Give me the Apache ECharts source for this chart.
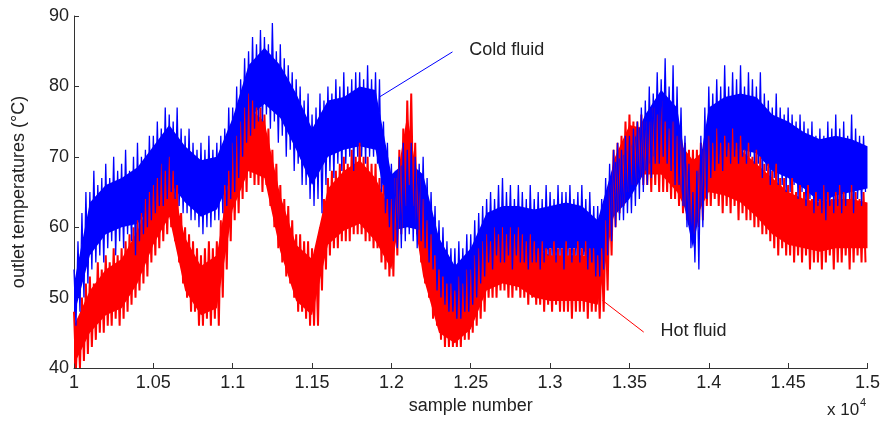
<!DOCTYPE html>
<html>
<head>
<meta charset="utf-8">
<script src="https://cdn.jsdelivr.net/npm/echarts@6/dist/echarts.min.js"></script>
<style>
  html, body { margin: 0; padding: 0; background: #fff; }
  #chart { width: 883px; height: 426px; }
</style>
</head>
<body>
<div id="chart"></div>
<script>
// spike readings: bins of 25 samples starting at 10000 (hi / lo per bin)
const sampleStart = 10000
const binSize = 25
// dense core of each trace: one reading every 100 samples
const coreStep = 100

const coldHi = [
  54, 58, 62, 65, 65, 68, 66, 67, 69, 67, 70, 68, 69, 71, 68, 70, 72, 70, 71, 73,
  73, 75, 74, 77, 76, 75, 77, 74, 73, 74, 72, 71, 72, 71, 73, 71, 72, 73, 74, 77,
  77, 80, 81, 84, 85, 87, 86, 88, 87, 86, 89, 85, 86, 84, 83, 82, 81, 80, 78, 79,
  76, 77, 79, 78, 80, 79, 81, 80, 82, 80, 81, 82, 82, 81, 83, 81, 82, 81, 75, 72,
  69, 68, 70, 72, 71, 72, 70, 69, 70, 67, 65, 63, 61, 60, 58, 57, 57, 58, 57, 59,
  59, 61, 62, 63, 64, 65, 64, 66, 67, 65, 66, 64, 66, 65, 64, 66, 64, 65, 64, 66,
  65, 64, 66, 65, 65, 66, 64, 65, 66, 64, 65, 63, 63, 64, 67, 69, 71, 72, 71, 73,
  73, 74, 75, 77, 78, 80, 79, 82, 81, 84, 80, 83, 80, 77, 73, 69, 65, 68, 73, 77,
  80, 79, 81, 80, 83, 80, 82, 81, 83, 80, 82, 81, 80, 82, 79, 78, 77, 79, 77, 76,
  77, 76, 75, 76, 75, 74, 75, 73, 74, 73, 75, 74, 76, 74, 75, 73, 76, 74, 73, 73,
]
const coldLo = [
  46, 48, 50, 52, 54, 55, 56, 55, 57, 58, 56, 58, 57, 59, 58, 56, 58, 59, 60, 61,
  62, 63, 63, 64, 65, 64, 63, 62, 62, 61, 61, 60, 59, 60, 60, 61, 61, 62, 63, 64,
  65, 67, 70, 72, 73, 74, 75, 75, 76, 74, 75, 72, 73, 70, 71, 68, 69, 66, 66, 64,
  63, 64, 62, 66, 68, 67, 69, 68, 69, 70, 68, 70, 70, 69, 70, 70, 69, 65, 62, 60,
  58, 57, 57, 58, 59, 58, 57, 58, 57, 55, 54, 51, 50, 49, 48, 48, 47, 47, 48, 48,
  49, 50, 52, 53, 55, 54, 56, 55, 55, 56, 54, 56, 55, 55, 54, 55, 55, 54, 55, 56,
  56, 55, 56, 54, 56, 55, 56, 55, 56, 54, 55, 53, 53, 54, 56, 58, 60, 61, 61, 62,
  62, 63, 64, 65, 66, 67, 69, 69, 70, 69, 68, 66, 66, 63, 60, 57, 55, 54, 60, 64,
  67, 68, 69, 68, 70, 69, 70, 69, 70, 69, 70, 69, 69, 67, 68, 66, 67, 66, 66, 65,
  65, 66, 64, 65, 63, 64, 62, 63, 62, 61, 63, 62, 63, 62, 63, 64, 62, 64, 63, 65,
]
const hotHi = [
  48, 47, 50, 52, 53, 52, 55, 54, 56, 55, 57, 56, 57, 58, 59, 60, 61, 62, 64, 65,
  66, 67, 69, 68, 70, 68, 66, 62, 60, 59, 58, 57, 56, 57, 58, 57, 58, 61, 66, 68,
  72, 73, 75, 77, 79, 78, 77, 77, 76, 74, 71, 69, 66, 64, 63, 61, 59, 59, 58, 58,
  57, 56, 60, 64, 67, 68, 68, 69, 70, 69, 71, 70, 72, 70, 70, 69, 69, 67, 66, 64,
  64, 67, 71, 74, 78, 79, 72, 67, 64, 61, 59, 56, 54, 53, 52, 52, 51, 53, 52, 54,
  54, 56, 57, 58, 59, 58, 60, 59, 60, 59, 60, 59, 60, 59, 58, 59, 58, 57, 58, 57,
  57, 58, 57, 57, 58, 57, 57, 58, 57, 58, 57, 57, 56, 57, 61, 66, 71, 72, 73, 75,
  76, 75, 75, 76, 75, 75, 77, 76, 78, 75, 74, 75, 73, 73, 72, 71, 71, 71, 72, 72,
  73, 72, 74, 72, 73, 72, 74, 72, 73, 71, 72, 70, 71, 70, 69, 69, 68, 69, 67, 67,
  66, 67, 65, 66, 65, 66, 64, 65, 64, 66, 65, 64, 65, 66, 65, 64, 66, 65, 64, 65,
]
const hotLo = [
  40, 40, 41, 42, 43, 44, 45, 45, 46, 46, 47, 46, 47, 48, 49, 50, 51, 52, 53, 55,
  56, 57, 58, 59, 60, 58, 55, 52, 50, 48, 48, 46, 46, 47, 46, 47, 46, 50, 54, 58,
  61, 62, 64, 65, 67, 66, 66, 65, 66, 63, 60, 57, 55, 53, 52, 50, 48, 48, 47, 46,
  46, 46, 51, 54, 56, 57, 57, 58, 58, 58, 59, 59, 59, 58, 58, 57, 57, 55, 54, 53,
  53, 56, 59, 63, 66, 63, 59, 55, 52, 50, 47, 46, 44, 43, 43, 43, 43, 43, 44, 44,
  45, 46, 47, 48, 50, 50, 50, 51, 51, 50, 50, 51, 50, 50, 49, 50, 49, 49, 48, 49,
  48, 49, 48, 48, 48, 47, 48, 48, 48, 47, 48, 48, 47, 48, 51, 56, 60, 62, 63, 65,
  66, 66, 67, 66, 66, 65, 66, 65, 65, 65, 64, 64, 63, 62, 61, 60, 59, 60, 61, 63,
  63, 64, 63, 62, 63, 62, 63, 61, 62, 61, 61, 60, 60, 59, 59, 58, 57, 56, 57, 56,
  56, 55, 56, 55, 56, 54, 55, 55, 54, 55, 56, 54, 55, 55, 56, 54, 55, 56, 55, 55,
]

const coldCoreHi = [
  52, 63.5, 66, 67, 68.5, 71.5, 74.5, 71.5, 69.5, 70,
  75.5, 83, 85.5, 83, 79, 74, 78, 78.5, 80, 79.5,
  67.5, 69.5, 67.5, 58.5, 54.5, 57, 62, 63, 63, 62.5,
  63, 63.5, 63, 61, 69, 71, 76, 79.5, 77, 63,
  77, 78.5, 79, 78.5, 76, 75, 73.5, 72.5, 73, 72.5, 71.5,
]
const coldCoreLo = [
  47.5, 56, 59, 60, 60.5, 63.5, 66.5, 63.5, 61.5, 62.5,
  67.5, 75.5, 77.5, 75.5, 71, 66, 70, 71, 71.5, 71,
  59.5, 60, 59.5, 51.5, 48.5, 50.5, 56, 57, 57, 56,
  57, 57, 57, 54, 61.5, 64, 68, 72, 68, 57,
  69, 71, 71, 70.5, 68, 67, 65.5, 63.5, 64.5, 65, 65.5,
]
const hotCoreHi = [
  46, 51, 54, 55.5, 59.5, 64.5, 68, 58.5, 54.5, 56,
  70, 77, 75, 64.5, 57.5, 55.5, 65.5, 68, 69.5, 67,
  62, 76, 62, 52, 50, 53, 57.5, 58.5, 58.5, 57,
  56, 56, 56, 55.5, 69.5, 74.5, 74, 74, 72.5, 69.5,
  71.5, 71.5, 71, 69, 67, 65, 64, 63.5, 64, 64, 63.5,
]
const hotCoreLo = [
  40.5, 45, 47.5, 48.5, 52, 57.5, 61.5, 51, 47.5, 48.5,
  62.5, 68, 67, 56.5, 49.5, 47.5, 57.5, 59.5, 60.5, 58,
  54, 67.5, 53, 45, 43.5, 45.5, 51, 52, 51.5, 50,
  49.5, 49.5, 49.5, 49, 61.5, 67.5, 67.5, 67.5, 65, 60.5,
  65, 64.5, 63.5, 61.5, 59, 57.5, 57, 56.5, 57, 57, 57,
]

// annotation arrows (data coords) and label anchors
const coldArrow = [[11925, 78.5], [12385, 84.9]]
const hotArrow = [[13330, 49.6], [13590, 45.1]]
const coldLabelAt = [12491, 85.0]
const hotLabelAt = [13696, 45.1]

const font = '"Liberation Sans", Arial, sans-serif'
const textColor = '#222'
const blue = '#0000ff'
const red = '#ff0000'

function zigzag(hi, lo) {
  const pts = []
  for (let i = 0; i < hi.length; i++) {
    const x = sampleStart + i * binSize
    pts.push([x, hi[i]])
    pts.push([x + binSize / 2, lo[i]])
  }
  return pts
}

// solid core band between two readings, drawn through the axes
function bandSeries(hi, lo, color) {
  return {
    type: 'custom',
    silent: true,
    clip: true,
    data: [0],
    renderItem: (params, api) => {
      const points = []
      for (let i = 0; i < hi.length; i++) {
        points.push(api.coord([sampleStart + i * coreStep, hi[i]]))
      }
      for (let i = lo.length - 1; i >= 0; i--) {
        points.push(api.coord([sampleStart + i * coreStep, lo[i]]))
      }
      return {
        type: 'polygon',
        shape: { points },
        style: { fill: color, stroke: null },
      }
    },
  }
}

function lineSeries(name, hi, lo, color, width, arrow) {
  return {
    name,
    type: 'line',
    data: zigzag(hi, lo),
    symbol: 'none',
    silent: true,
    lineStyle: { color, width },
    markLine: {
      silent: true,
      symbol: 'none',
      animation: false,
      label: { show: false },
      lineStyle: { color, width: 1, type: 'solid' },
      data: [[{ coord: arrow[0] }, { coord: arrow[1] }]],
    },
  }
}

const chart = echarts.init(document.getElementById('chart'), null, { renderer: 'canvas' })

chart.setOption({
  animation: false,
  backgroundColor: '#fff',
  grid: { left: 74, right: 13, top: 16, bottom: 58 },
  xAxis: {
    type: 'value',
    min: 10000,
    max: 15000,
    interval: 500,
    name: 'sample number',
    nameLocation: 'middle',
    nameGap: 27,
    nameTextStyle: { fontFamily: font, fontSize: 18, color: textColor },
    axisLine: { lineStyle: { color: '#333', width: 1 } },
    axisTick: { inside: true, length: 5, lineStyle: { color: '#333' } },
    axisLabel: {
      margin: 6,
      fontFamily: font,
      fontSize: 18,
      color: textColor,
      formatter: (v) => String(v / 10000),
    },
    splitLine: { show: false },
  },
  yAxis: {
    type: 'value',
    min: 40,
    max: 90,
    interval: 10,
    name: 'outlet temperatures (°C)',
    nameLocation: 'middle',
    nameGap: 46,
    nameTextStyle: { fontFamily: font, fontSize: 18, color: textColor },
    axisLine: { show: true, lineStyle: { color: '#333', width: 1 } },
    axisTick: { show: true, inside: true, length: 5, lineStyle: { color: '#333' } },
    axisLabel: { margin: 5, fontFamily: font, fontSize: 18, color: textColor },
    splitLine: { show: false },
  },
  series: [
    bandSeries(hotCoreHi, hotCoreLo, red),
    bandSeries(coldCoreHi, coldCoreLo, blue),
    lineSeries('Hot fluid', hotHi, hotLo, red, 2, hotArrow),
    lineSeries('Cold fluid', coldHi, coldLo, blue, 1.3, coldArrow),
  ],
})

const coldPos = chart.convertToPixel({ gridIndex: 0 }, coldLabelAt)
const hotPos = chart.convertToPixel({ gridIndex: 0 }, hotLabelAt)

chart.setOption({
  graphic: [
    {
      type: 'text',
      left: coldPos[0],
      top: coldPos[1] - 10,
      style: { text: 'Cold fluid', font: '18px ' + font, fill: textColor },
    },
    {
      type: 'text',
      left: hotPos[0],
      top: hotPos[1] - 10,
      style: { text: 'Hot fluid', font: '18px ' + font, fill: textColor },
    },
    {
      type: 'text',
      left: 827,
      top: 402,
      style: { text: 'x 10', font: '17px ' + font, fill: textColor },
    },
    {
      type: 'text',
      left: 860,
      top: 397,
      style: { text: '4', font: '11px ' + font, fill: textColor },
    },
  ],
})
</script>
</body>
</html>
